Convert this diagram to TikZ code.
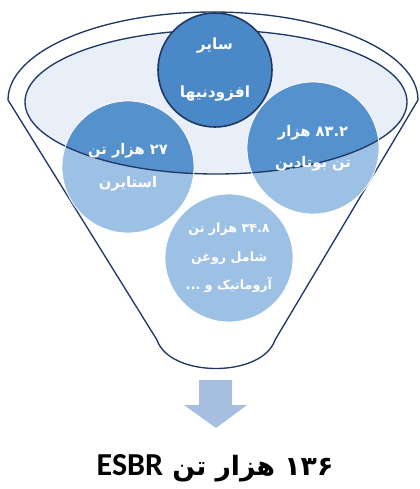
\documentclass[tikz,border=0pt]{standalone}
\usepackage{fontspec}
\newfontfamily\farsi[Script=Arabic]{DejaVu Sans}
\newfontfamily\latinbold{Carlito}
\TeXXeTstate=1
\usetikzlibrary{positioning}
\definecolor{rimnavy}{HTML}{1F3864}
\definecolor{rimfill}{HTML}{E9EFF8}
\definecolor{balltop}{HTML}{4A88C7}
\definecolor{balldark}{HTML}{5591CD}
\definecolor{balllight}{HTML}{9DC1E5}
\definecolor{flowblue}{HTML}{A6BFE1}

\begin{document}
\begin{tikzpicture}[x=0.75pt, y=-0.75pt,
    rim/.style={draw=rimnavy, line width=1pt},
    ball/.style={circle, inner sep=0pt, fill=balllight, draw=white, line width=0.6pt,
        text=white, align=center,
        path picture={\fill[balldark] (rimc) ellipse [x radius=191, y radius=72];
                      \draw[rim] (rimc) ellipse [x radius=191, y radius=72];}},
    topball/.style={circle, inner sep=0pt, fill=balltop, draw=rimnavy, line width=1.2pt,
        text=white, align=center}]
    \useasboundingbox (0,0) rectangle (419,489);
    % funnel
    \draw[rim, fill=white] (8,100) arc [start angle=180, end angle=360, x radius=205, y radius=88]
        -- (275,340) .. controls (262,378) and (170,378) .. (157,340) -- cycle;
    \coordinate (rimc) at (216,102);
    \draw[rim, fill=rimfill] (rimc) ellipse [x radius=191, y radius=72];
    % balls
    \node[topball, minimum size=85.5pt, font=\farsi\bfseries\fontsize{11.5}{36}\selectfont] (other) at (215,70)
        {\beginR سایر\endR\\\beginR افزودنیها\endR};
    \node[ball, minimum size=99pt, font=\farsi\bfseries\fontsize{11}{24.75}\selectfont] (styrene) at (128,167)
        {\beginR ۲۷ هزار تن\endR\\\beginR استایرن\endR};
    \node[ball, minimum size=99pt, font=\farsi\bfseries\fontsize{11}{23}\selectfont] (butadiene) at (313,148)
        {\beginR ۸۳.۲ هزار\endR\\\beginR تن بوتادین\endR};
    \node[ball, minimum size=96pt, font=\farsi\bfseries\fontsize{9.5}{21.4}\selectfont] (oil) at (229,258)
        {\beginR ۳۴.۸ هزار تن\endR\\\beginR شامل روغن\endR\\\beginR آروماتیک و ...\endR};
    % output
    \fill[flowblue] (199,380) -- (232,380) -- (232,405) -- (247,405) -- (216,428)
        -- (184,405) -- (199,405) -- cycle;
    \node[anchor=base, inner sep=0pt, font=\farsi\bfseries\fontsize{20}{24}\selectfont] (total) at (215,475)
        {\beginR ۱۳۶ هزار تن \beginL{\latinbold\bfseries\fontsize{24}{28}\selectfont ESBR}\endL\endR};
\end{tikzpicture}
\end{document}
